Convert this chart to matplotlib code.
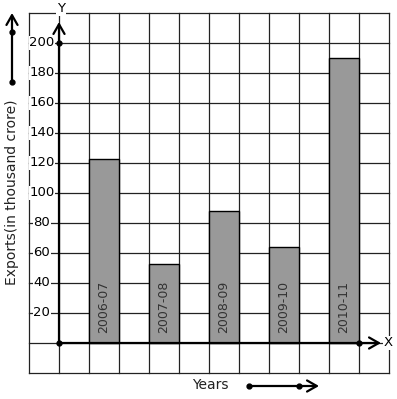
import matplotlib
matplotlib.use("Agg")
import matplotlib.pyplot as plt
import numpy as np

years = ["2006-07", "2007-08", "2008-09", "2009-10", "2010-11"]
exports = [123, 53, 88, 64, 190]
y_ticks = [20, 40, 60, 80, 100, 120, 140, 160, 180, 200]

# pixel -> data helpers (grid cell = 30 px wide, 20 units = 30 px tall)
W, H = 397, 399
X0, Y0 = 59, 343


def ux(px):
    return (px - X0) / 30.0


def vy(py):
    return (Y0 - py) / 1.5


fig = plt.figure(figsize=(W / 100, H / 100), dpi=100)
ax = fig.add_axes([0, 0, 1, 1])
ax.set_xlim(ux(0), ux(W))
ax.set_ylim(vy(H), vy(0))
ax.axis("off")

# grid
for u in range(-1, 12):
    ax.plot([u, u], [-20, 220], color="#222222", lw=0.9, zorder=1)
for v in range(-20, 221, 20):
    ax.plot([-1, 11], [v, v], color="#222222", lw=0.9, zorder=1)

# bars
xpos = np.arange(len(years)) * 2 + 1.5
ax.bar(xpos, exports, width=1.0, color="#999999", edgecolor="black",
       linewidth=1.0, zorder=3)
for x, lab in zip(xpos, years):
    ax.text(x, 6.5, lab, rotation=90, ha="center", va="bottom",
            fontsize=9, color="#333333", zorder=4)

# tick labels
for t in y_ticks:
    ax.text(-0.57, t, str(t), ha="center", va="center", fontsize=9.5,
            zorder=2, bbox=dict(facecolor="white", edgecolor="none", pad=0.2))

# axes with arrows
arrow = dict(arrowstyle="->,head_length=0.7,head_width=0.4", lw=1.6,
             color="black", shrinkA=0, shrinkB=0)
ax.annotate("", xy=(0, vy(22)), xytext=(0, 0), arrowprops=arrow, zorder=5)
ax.annotate("", xy=(ux(381), 0), xytext=(0, 0), arrowprops=arrow, zorder=5)
ax.plot([0, 0, 10], [0, 200, 0], "o", color="black", ms=3.5, zorder=6)
ax.text(ux(61), vy(9), "Y", ha="center", va="center", fontsize=9.5, zorder=2,
        bbox=dict(facecolor="white", edgecolor="none", pad=0.5))
ax.text(ux(388), 0, "X", ha="center", va="center", fontsize=9.5, zorder=2,
        bbox=dict(facecolor="white", edgecolor="none", pad=0.5))

# axis titles with decorative arrows
ax.text(ux(12), vy(192), "Exports(in thousand crore)", rotation=90,
        ha="center", va="center", fontsize=10, color="#222222")
ax.text(ux(210), vy(385), "Years", ha="center", va="center", fontsize=10,
        color="#222222")
ax.annotate("", xy=(ux(12), vy(13)), xytext=(ux(12), vy(82)),
            arrowprops=arrow)
ax.plot([ux(12), ux(12)], [vy(32), vy(82)], "o", color="black", ms=3.5)
ax.annotate("", xy=(ux(319), vy(386)), xytext=(ux(249), vy(386)),
            arrowprops=arrow)
ax.plot([ux(249), ux(299)], [vy(386), vy(386)], "o", color="black", ms=3.5)

fig.savefig("out.png", dpi=100)
